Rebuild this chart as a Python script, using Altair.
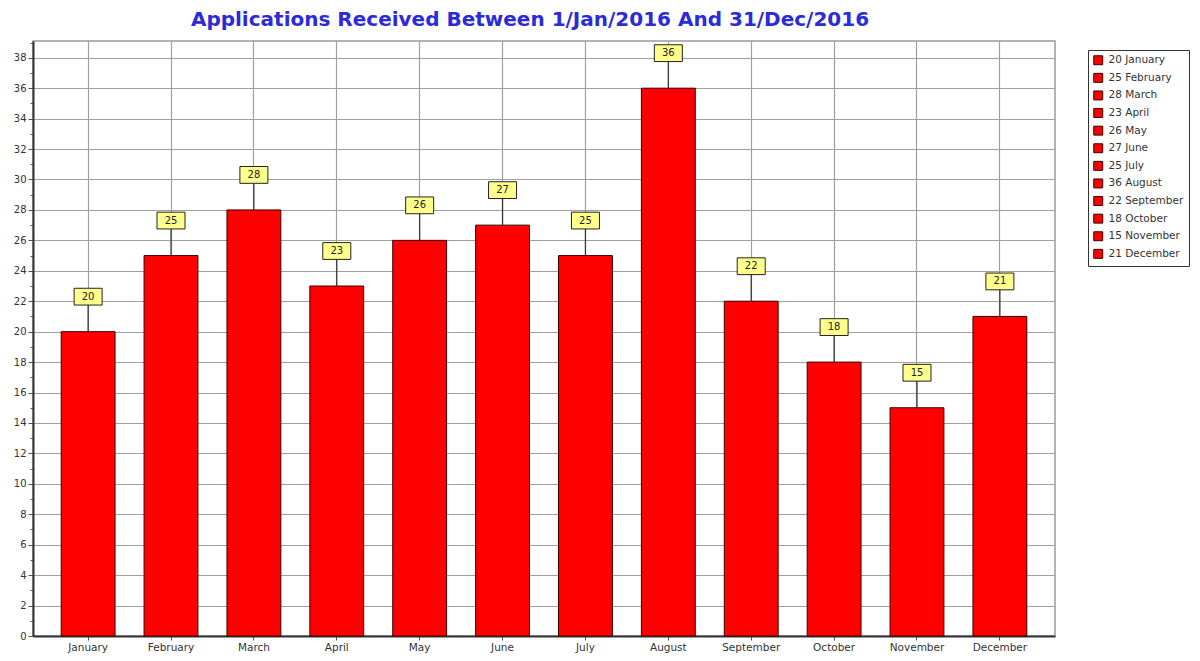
import altair as alt
import pandas as pd

months = ["January", "February", "March", "April", "May", "June", "July",
          "August", "September", "October", "November", "December"]
values = [20, 25, 28, 23, 26, 27, 25, 36, 22, 18, 15, 21]
y_ticks = [i * 0.5 for i in range(0, 79)]

df = pd.DataFrame({"month": months, "value": values})
df["legend"] = [f"{v} {m}" for v, m in zip(values, months)]
legend_order = list(df["legend"])

FONT = "DejaVu Sans"

base = alt.Chart(df).transform_calculate(
    lo="datum.value + 1.75",
    mid="datum.value + 2.3",
)

x_axis = alt.Axis(
    bandPosition=0.5, grid=True, gridColor="#a0a0a0", gridWidth=1.2,
    labelAngle=0, labelFont=FONT, labelFontSize=10.5,
    labelColor="#333333", labelPadding=2, tickSize=4, tickColor="#555",
    domainColor="#333333", domainWidth=2, title=None,
)
x_scale = alt.Scale(paddingInner=0.35, paddingOuter=0.34)

def xe():
    return alt.X("month:N", sort=months, title=None, scale=x_scale, axis=x_axis)

y_axis = alt.Axis(
    values=y_ticks, format="d",
    labelExpr="datum.value % 2 === 0 ? datum.label : ''",
    tickSize={"condition": {"test": "datum.value % 2 === 0", "value": 5}, "value": 3},
    gridOpacity={"condition": {"test": "datum.value % 2 === 0", "value": 1}, "value": 0},
    grid=True, gridColor="#a0a0a0", gridWidth=1.2,
    labelFont=FONT, labelFontSize=10, labelColor="#333333",
    labelPadding=2, tickColor="#555", domainColor="#333333", domainWidth=2,
    title=None,
)
y_scale = alt.Scale(domain=[0, 39.1], nice=False, zero=True)

def ye(field):
    return alt.Y(field, scale=y_scale, title=None, axis=y_axis)

bars = base.mark_bar(stroke="#3a0000", strokeWidth=1).encode(
    x=xe(),
    y=ye("value:Q"),
    color=alt.Color(
        "legend:N", sort=legend_order, title=None,
        scale=alt.Scale(domain=legend_order, range=["#ff0000"] * 12),
        legend=alt.Legend(
            orient="none", legendX=1055, legendY=9,
            symbolType="square", symbolSize=80, symbolStrokeColor="#3a0000",
            symbolStrokeWidth=1, symbolOpacity=1,
            labelFont=FONT, labelFontSize=10.5, labelColor="#333333",
            rowPadding=3.6, padding=5, strokeColor="#333333", fillColor="white",
            labelLimit=200, labelOffset=5,
        ),
    ),
)

rules = base.mark_rule(color="#333333", strokeWidth=1.2).encode(
    x=xe(),
    y=ye("value:Q"),
    y2="lo:Q",
)

boxes = base.mark_point(
    shape="M-1,-0.6 L1,-0.6 L1,0.6 L-1,0.6 Z", filled=True, fill="#ffff8c",
    stroke="#222222", strokeWidth=1, opacity=1, size=784,
).encode(
    x=xe(),
    y=ye("mid:Q"),
)

labels = base.mark_text(font=FONT, fontSize=10, color="#222222").encode(
    x=xe(),
    y=ye("mid:Q"),
    text="value:Q",
)

chart = alt.layer(bars, rules, boxes, labels).properties(
    width=1022, height=595,
    autosize=alt.AutoSizeParams(type="none"),
    padding={"left": 25, "top": 33, "right": 137, "bottom": 19},
    title=alt.Title(
        "Applications Received Between 1/Jan/2016 And 31/Dec/2016",
        font=FONT, fontSize=20, fontWeight="bold", color="#2b2bd8",
        anchor="middle", dx=-14, offset=11,
    ),
).configure_view(stroke="#9a9a9a", strokeWidth=1.5)

chart.save("out.html", embed_options={"renderer": "svg", "actions": False})
